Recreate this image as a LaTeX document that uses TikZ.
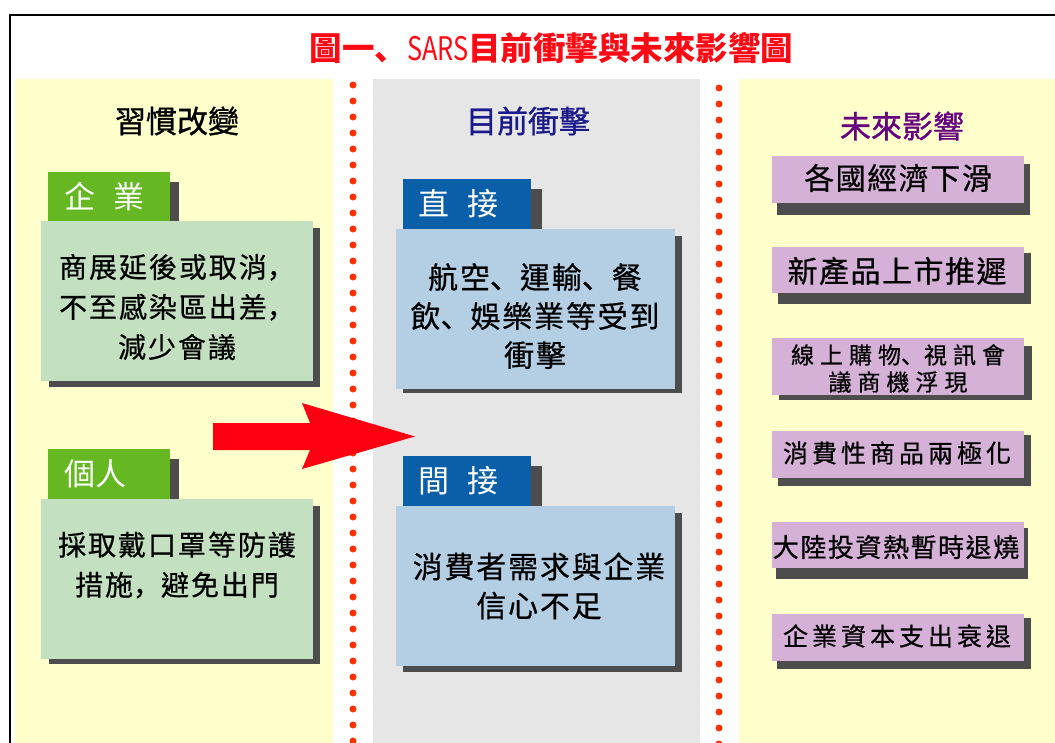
\documentclass[tikz,border=0pt]{standalone}
\usepackage{fontspec}
\setmainfont{Noto Sans CJK TC}

\definecolor{paleyellow}{HTML}{FFFFCC}
\definecolor{panelgray}{HTML}{E6E6E6}
\definecolor{dotred}{HTML}{FF3300}
\definecolor{titlered}{HTML}{FF0A14}
\definecolor{arrowred}{HTML}{FF0012}
\definecolor{navy}{HTML}{1A1A8C}
\definecolor{futurepurple}{HTML}{660080}
\definecolor{tabgreen}{HTML}{66B822}
\definecolor{palegreen}{HTML}{C3E1C0}
\definecolor{tabblue}{HTML}{0B5EA8}
\definecolor{paleblue}{HTML}{B4CFE4}
\definecolor{lilac}{HTML}{D5B0D7}
\definecolor{shadowgray}{HTML}{4D4D4D}

% punctuation sits low and left, as in the picture
\newcommand{\pausemark}{{\addfontfeature{Language=Japanese}、}}
\newcommand{\commamark}{{\addfontfeature{Language=Japanese}，}}

\tikzset{
  titletext/.style={text=titlered, inner sep=0pt, font=\bfseries\fontsize{32.5}{32.5}\selectfont},
  headtext/.style={inner sep=0pt, font=\fontsize{31}{31}\selectfont\addfontfeature{FakeBold=1}},
  tabtext/.style={anchor=west, text=white, inner sep=0pt, font=\fontsize{31}{31}\selectfont},
  bodytext/.style={align=center, inner sep=0pt, font=\fontsize{28}{40}\selectfont\addfontfeature{LetterSpace=7,FakeBold=0.6}},
  midtext/.style={align=center, inner sep=0pt, font=\fontsize{30}{39}\selectfont\addfontfeature{LetterSpace=6,FakeBold=0.6}},
  futuretext/.style={align=center, inner sep=0pt, font=\fontsize{30}{30}\selectfont\addfontfeature{LetterSpace=5,FakeBold=0.6}},
  shadowbox/.style={fill=shadowgray}
}

\begin{document}
\begin{tikzpicture}[x=1pt,y=-1pt]
			\clip (0,0) rectangle (1055,742);
			\fill[white] (0,0) rectangle (1055,742);
			\draw[line width=2pt] (10,14.5) rectangle (1090,790);
			\node[titletext] (title) at (551.5,48) {圖一\pausemark{\mdseries\scalebox{.78}[1]{SARS}}目前衝擊與未來影響圖};
			% three columns and the dotted dividers
			\fill[paleyellow] (15,79) rectangle (333,750);
			\fill[panelgray] (373,79) rectangle (700,750);
			\fill[paleyellow] (739,79) rectangle (1060,750);
			\foreach \y in {85,101,...,749} \fill[dotred] (353,\y) circle (3.5);
			\foreach \y in {88,104,...,749} \fill[dotred] (719,\y) circle (3.5);
			\node[headtext] (habit) at (177,121) {習慣改變};
			\node[headtext, text=navy] (now) at (528,121) {目前衝擊};
			\node[headtext, text=futurepurple] (future) at (902,126) {未來影響};
			% left column
			\fill[shadowbox] (58,182) rectangle (179,233);
			\fill[tabgreen] (48,172) rectangle (170,223);
			\node[tabtext] (firm) at (64,197) {企\hspace{.6em}業};
			\fill[shadowbox] (49,228) rectangle (320,387);
			\fill[palegreen] (41,221) rectangle (313,381);
			\node[bodytext] (firmtext) at (177,307) {商展延後或取消\commamark\\不至感染區出差\commamark\\減少會議};
			\fill[shadowbox] (58,459) rectangle (179,510);
			\fill[tabgreen] (48,449) rectangle (170,499);
			\node[tabtext] (person) at (64,474) {個人};
			\fill[shadowbox] (49,506) rectangle (320,664);
			\fill[palegreen] (41,499) rectangle (313,659);
			\node[bodytext] (persontext) at (177,565) {採取戴口罩等防護\\措施\commamark 避免出門};
			% block arrow
			\fill[arrowred] (213,423) -- (310,423) -- (302,403) -- (415,436.5) -- (302,469) -- (310,450) -- (213,450) -- cycle;
			% middle column
			\fill[shadowbox] (413,189) rectangle (542,240);
			\fill[tabblue] (403,179) rectangle (531,230);
			\node[tabtext] (direct) at (418,204) {直\hspace{.6em}接};
			\fill[shadowbox] (403,236) rectangle (682,393);
			\fill[paleblue] (396,229) rectangle (675,389);
			\node[midtext] (directtext) at (535,316) {航空\pausemark 運輸\pausemark 餐\\飲\pausemark 娛樂業等受到\\衝擊};
			\fill[shadowbox] (413,466) rectangle (542,517);
			\fill[tabblue] (403,456) rectangle (531,507);
			\node[tabtext] (indirect) at (418,481) {間\hspace{.6em}接};
			\fill[shadowbox] (403,513) rectangle (682,672);
			\fill[paleblue] (396,506) rectangle (675,666);
			\node[midtext] (indirecttext) at (539,586) {消費者需求與企業\\信心不足};
			% right column
			\fill[shadowbox] (777,164) rectangle (1030,215);
			\fill[lilac] (772,156) rectangle (1024,203);
			\node[futuretext] (economy) at (898,178) {各國經濟下滑};
			\fill[shadowbox] (778,253) rectangle (1031,304);
			\fill[lilac] (772,247) rectangle (1024,293);
			\node[futuretext] (launch) at (897,271) {新產品上市推遲};
			\fill[shadowbox] (779,346) rectangle (1032,400);
			\fill[lilac] (772,338) rectangle (1024,395);
			\node[futuretext, font=\fontsize{23}{27}\selectfont\addfontfeature{LetterSpace=26,FakeBold=0.6}] (online) at (898,368.5) {線上購物\pausemark 視訊會\\議商機浮現};
			\fill[shadowbox] (778,435) rectangle (1031,486);
			\fill[lilac] (772,431) rectangle (1024,478);
			\node[futuretext, font=\fontsize{25}{25}\selectfont\addfontfeature{LetterSpace=16,FakeBold=0.6}] (goods) at (897,453) {消費性商品兩極化};
			\fill[shadowbox] (776,528) rectangle (1028,579);
			\fill[lilac] (772,522) rectangle (1024,568);
			\node[futuretext, font=\fontsize{26}{26}\selectfont\addfontfeature{LetterSpace=6,FakeBold=0.6}] (china) at (896,547) {大陸投資熱暫時退燒};
			\fill[shadowbox] (777,618) rectangle (1031,669);
			\fill[lilac] (772,614) rectangle (1024,661);
			\node[futuretext, font=\fontsize{25}{25}\selectfont\addfontfeature{LetterSpace=16,FakeBold=0.6}] (capex) at (897,636) {企業資本支出衰退};
\end{tikzpicture}
\end{document}
